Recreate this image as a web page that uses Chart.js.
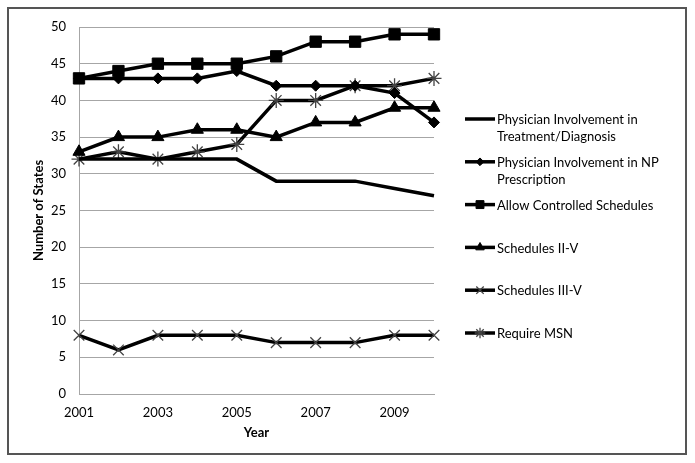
<!DOCTYPE html>
<html>
<head>
<meta charset="utf-8">
<script src="https://cdn.jsdelivr.net/npm/chart.js@4.4.1/dist/chart.umd.min.js"></script>
<style>
html, body { margin: 0; padding: 0; background: #fff; }
canvas { display: block; }
</style>
</head>
<body>
<canvas id="chart" width="695" height="463"></canvas>
<script>
	// years along the x axis, only every other one is labelled
	var years = ['2001', '2002', '2003', '2004', '2005', '2006', '2007', '2008', '2009', '2010'];
	var tickYears = ['2001', '2003', '2005', '2007', '2009'];

	var seriesNames = [
		'Physician Involvement in Treatment/Diagnosis',
		'Physician Involvement in NP Prescription',
		'Allow Controlled Schedules',
		'Schedules II-V',
		'Schedules III-V',
		'Require MSN'
	];

	var treatmentDiagnosis  = [32, 32, 32, 32, 32, 29, 29, 29, 28, 27];
	var npPrescription      = [43, 43, 43, 43, 44, 42, 42, 42, 41, 37];
	var controlledSchedules = [43, 44, 45, 45, 45, 46, 48, 48, 49, 49];
	var schedules2to5       = [33, 35, 35, 36, 36, 35, 37, 37, 39, 39];
	var schedules3to5       = [8, 6, 8, 8, 8, 7, 7, 7, 8, 8];
	var requireMsn          = [32, 33, 32, 33, 34, 40, 40, 42, 42, 43];

	var yMin = 0, yMax = 50, yStep = 5;

	var GRID = '#a6a6a6';
	Chart.defaults.font.family = 'Lato';
	Chart.defaults.color = '#000';

	function makeSet(label, data, style, radius, fill, border, bw)
	{
		return {
			label: label,
			data: data,
			borderColor: '#000',
			borderWidth: 3.5,
			tension: 0,
			pointStyle: style,
			pointRadius: radius,
			pointHoverRadius: radius,
			pointBackgroundColor: fill,
			pointBorderColor: border,
			pointBorderWidth: bw
		};
	}

	var datasets = [
		makeSet(seriesNames[0], treatmentDiagnosis, 'circle', 0, '#000', '#000', 0),
		makeSet(seriesNames[1], npPrescription, 'rectRot', 5.5, '#000', '#000', 1),
		makeSet(seriesNames[2], controlledSchedules, 'rect', 8, '#000', '#000', 1),
		makeSet(seriesNames[3], schedules2to5, 'triangle', 7, '#000', '#000', 1),
		makeSet(seriesNames[4], schedules3to5, 'crossRot', 7.5, '#444', '#444', 1.3),
		makeSet(seriesNames[5], requireMsn, 'star', 7.5, '#444', '#444', 1.3)
	];

	// legend on the right: line sample with marker and wrapped text
	var sideLegend = {
		id: 'sideLegend',
		afterDraw: function(chart) {
			var ctx = chart.ctx;
			ctx.save();
			ctx.font = '13px Lato';
			ctx.textBaseline = 'middle';
			chart.data.datasets.forEach(function(ds, i) {
				var y = 119 + i * 42.8;
				ctx.strokeStyle = '#000';
				ctx.lineWidth = 3.5;
				ctx.beginPath();
				ctx.moveTo(465, y);
				ctx.lineTo(495, y);
				ctx.stroke();
				if (ds.pointRadius > 0) {
					ctx.fillStyle = ds.pointBackgroundColor;
					ctx.strokeStyle = ds.pointBorderColor;
					ctx.lineWidth = ds.pointBorderWidth;
					Chart.helpers.drawPoint(ctx, {pointStyle: ds.pointStyle, radius: ds.pointRadius * 0.7, borderWidth: ds.pointBorderWidth, rotation: 0}, 480, y);
				}
				// word wrap
				var words = ds.label.split(' '), line = '', lines = [];
				words.forEach(function(w) {
					var t = line ? line + ' ' + w : w;
					if (ctx.measureText(t).width > 182 && line) { lines.push(line); line = w; }
					else { line = t; }
				});
				lines.push(line);
				ctx.fillStyle = '#000';
				lines.forEach(function(l, k) { ctx.fillText(l, 497, y + 1 + k * 17); });
			});
			// outer frame
			ctx.strokeStyle = '#555';
			ctx.lineWidth = 2;
			ctx.strokeRect(8, 8, 678, 446);
			ctx.restore();
		}
	};

	new Chart(document.getElementById('chart'), {
		type: 'line',
		data: { labels: years, datasets: datasets },
		options: {
			responsive: false,
			animation: false,
			layout: { padding: { left: 0, top: 27, right: 261, bottom: 0 } },
			plugins: { legend: { display: false }, tooltip: { enabled: false } },
			scales: {
				x: {
					type: 'category',
					offset: false,
					grid: { display: false, drawTicks: false },
					border: { color: GRID, width: 1 },
					ticks: {
						autoSkip: false,
						maxRotation: 0,
						padding: 11,
						font: { size: 13 },
						callback: function(v, i) { return tickYears.indexOf(years[i]) >= 0 ? years[i] : ''; }
					},
					title: { display: true, text: 'Year', font: { size: 13, weight: 'bold' }, padding: { bottom: 22 } },
					afterFit: function(s) { s.height = 69; }
				},
				y: {
					min: yMin,
					max: yMax,
					grid: { color: GRID, drawTicks: false, lineWidth: 1 },
					border: { color: GRID, width: 1 },
					ticks: { stepSize: yStep, padding: 13, font: { size: 13 } },
					title: { display: true, text: 'Number of States', font: { size: 13, weight: 'bold' }, padding: { top: 31 } },
					afterFit: function(s) { s.width = 79; }
				}
			}
		},
		plugins: [sideLegend]
	});
</script>
</body>
</html>
